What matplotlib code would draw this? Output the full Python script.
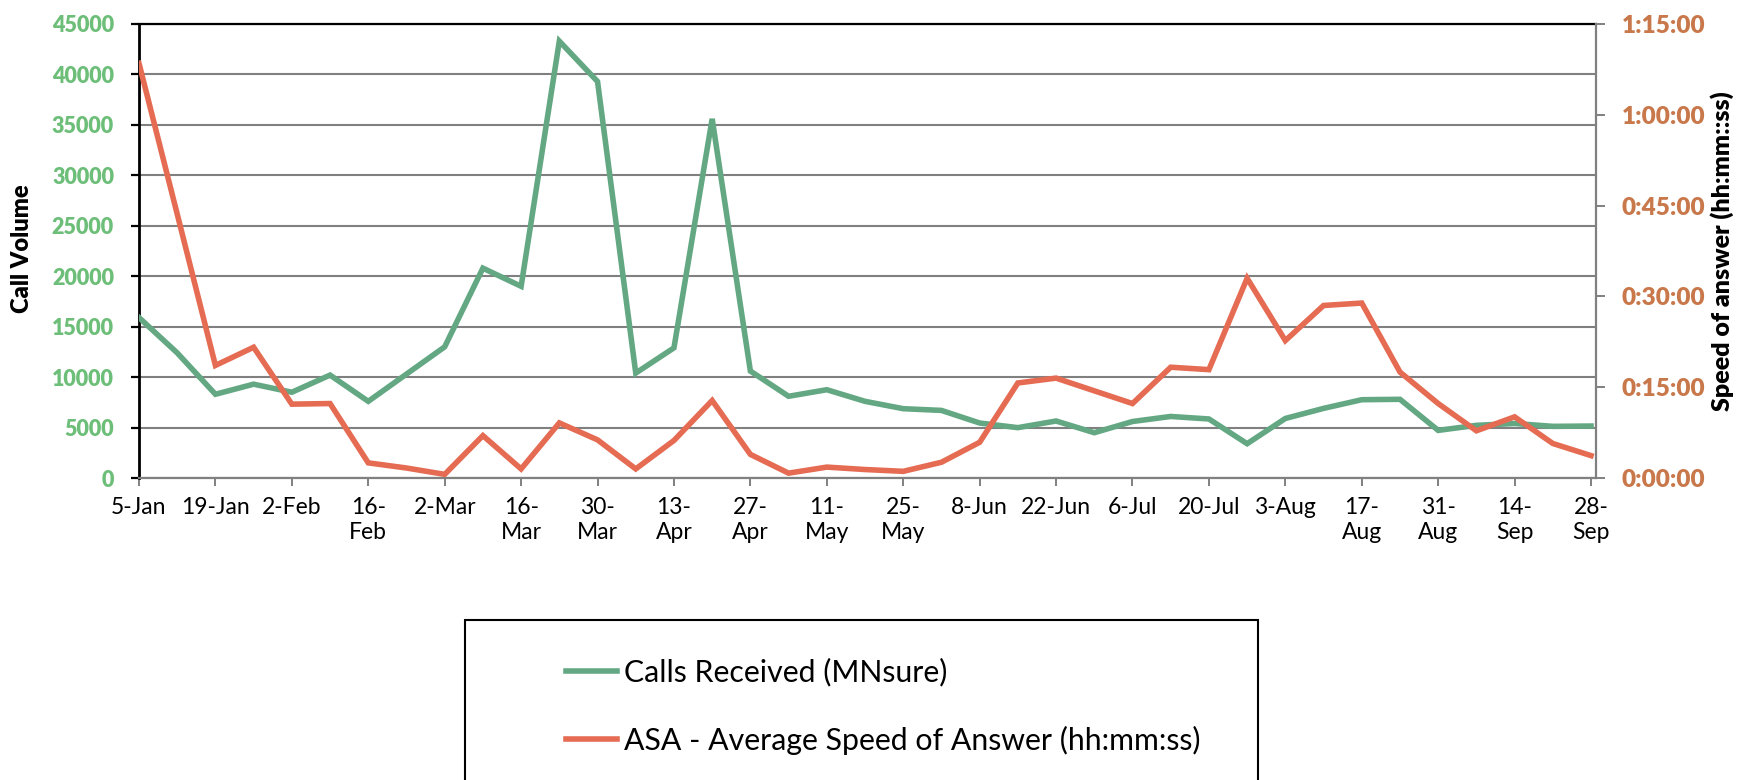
import os
import numpy as np
import matplotlib
matplotlib.use("Agg")
import matplotlib.pyplot as plt
from matplotlib import font_manager as fm
from matplotlib.lines import Line2D
from matplotlib.patches import Rectangle

# ---------------- data ----------------
week_labels = ["5-Jan", "19-Jan", "2-Feb", "16-\nFeb", "2-Mar", "16-\nMar", "30-\nMar",
               "13-\nApr", "27-\nApr", "11-\nMay", "25-\nMay", "8-Jun", "22-Jun", "6-Jul",
               "20-Jul", "3-Aug", "17-\nAug", "31-\nAug", "14-\nSep", "28-\nSep"]

calls_received = [15900, 12400, 8300, 9300, 8500, 10200, 7600, 10300, 13000, 20800,
                  19000, 43300, 39300, 10400, 12900, 35600, 10600, 8100, 8750, 7600,
                  6870, 6700, 5450, 4990, 5650, 4490, 5600, 6100, 5850, 3400,
                  5900, 6900, 7760, 7800, 4720, 5220, 5400, 5120, 5150]

asa = ["1:08:30", "0:43:36", "0:18:36", "0:21:36", "0:12:12", "0:12:18", "0:02:30",
       "0:01:39", "0:00:36", "0:07:00", "0:01:30", "0:09:06", "0:06:18", "0:01:30",
       "0:06:12", "0:12:48", "0:03:54", "0:00:48", "0:01:48", "0:01:24", "0:01:06",
       "0:02:36", "0:05:54", "0:15:42", "0:16:30", "0:14:24", "0:12:18", "0:18:18",
       "0:17:54", "0:33:00", "0:22:42", "0:28:30", "0:28:54", "0:17:30", "0:12:18",
       "0:07:48", "0:10:06", "0:05:42", "0:03:42"]

calls_ticks = [0, 5000, 10000, 15000, 20000, 25000, 30000, 35000, 40000, 45000]
asa_ticks = ["0:00:00", "0:15:00", "0:30:00", "0:45:00", "1:00:00", "1:15:00"]

series_names = ["Calls Received (MNsure)", "ASA - Average Speed of Answer (hh:mm:ss)"]


def to_seconds(s):
    h, m, sec = s.split(":")
    return int(h) * 3600 + int(m) * 60 + int(sec)


asa_sec = [to_seconds(s) for s in asa]
asa_tick_sec = [to_seconds(s) for s in asa_ticks]
x = np.arange(len(calls_received))


# pick a family that really has a heavy face installed
def find_bold_family():
    for fam in ['Lato', 'Noto Sans', 'Open Sans', 'Liberation Sans']:
        try:
            p = fm.findfont(fm.FontProperties(family=fam, weight='heavy'),
                            fallback_to_default=False)
        except Exception:
            continue
        base = os.path.basename(p).lower()
        if any(k in base for k in ('bold', 'black', 'heavy')):
            return fam
    return 'DejaVu Sans'


BOLD_FAM = find_bold_family()
BOLD_W = 'heavy'

# ---------------- style ----------------
plt.rcParams['font.family'] = ['Lato', 'DejaVu Sans']
GREEN = "#63A883"
RED = "#E56B53"
GREEN_TXT = "#6CBE78"
ORANGE_TXT = "#C8784A"
GRAY = "#808080"

W, H = 1746, 780
fig = plt.figure(figsize=(W / 100, H / 100), dpi=100)
L, R, T, B = 139, 1596, 24, 478
ax = fig.add_axes([L / W, 1 - B / H, (R - L) / W, (B - T) / H])
ax2 = ax.twinx()

ax.plot(x, calls_received, color=GREEN, lw=4.0, solid_joinstyle='miter', zorder=3)
ax2.plot(x, asa_sec, color=RED, lw=4.0, solid_joinstyle='miter', zorder=3)

ax.set_xlim(0, 38.13)
ax.set_ylim(calls_ticks[0], calls_ticks[-1])
ax2.set_ylim(asa_tick_sec[0], asa_tick_sec[-1])

ax.tick_params(axis='y', direction='out', length=6, width=1.6, color='black',
               labelsize=15.5, labelcolor=GREEN_TXT, pad=12)
ax.tick_params(axis='x', direction='out', length=6, width=1.4, color=GRAY,
               labelsize=16.5, labelcolor='black', pad=8)
ax2.tick_params(axis='y', direction='out', length=6.5, width=1.4, color=GRAY,
                labelsize=17.5, labelcolor=ORANGE_TXT, pad=12)

ax.set_yticks(calls_ticks)
ax.set_yticklabels([str(v) for v in calls_ticks], family=[BOLD_FAM, 'DejaVu Sans'],
                   fontweight=BOLD_W, fontsize=15.5, color=GREEN_TXT)
ax2.set_yticks(asa_tick_sec)
ax2.set_yticklabels(asa_ticks, family=[BOLD_FAM, 'DejaVu Sans'], fontweight=BOLD_W,
                    fontsize=17.5, color=ORANGE_TXT)

ax.set_xticks(x[::2])
ax.set_xticklabels(week_labels, linespacing=1.2)

ax.grid(axis='y', color=GRAY, lw=1.5)
ax.set_axisbelow(True)

for sp in ['top', 'left']:
    ax.spines[sp].set_color('black')
ax.spines['top'].set_linewidth(1.6)
ax.spines['left'].set_linewidth(2.0)
ax.spines['bottom'].set_color(GRAY)
ax.spines['bottom'].set_linewidth(1.6)
ax.spines['right'].set_visible(False)
ax2.spines['right'].set_color(GRAY)
ax2.spines['right'].set_linewidth(1.6)
for sp in ['top', 'left', 'bottom']:
    ax2.spines[sp].set_visible(False)

fig.text(22 / W, 1 - 249 / H, "Call Volume", rotation=90, ha='center', va='center',
         fontsize=17, fontweight=BOLD_W, family=[BOLD_FAM, 'DejaVu Sans'], color='black')
fig.text(1722 / W, 1 - 251 / H, "Speed of answer (hh:mm::ss)", rotation=90,
         ha='center', va='center', fontsize=18, fontweight=BOLD_W,
         family=[BOLD_FAM, 'DejaVu Sans'], color='black')

# legend box (extends beyond the bottom edge)
fig.patches.append(Rectangle((465 / W, -0.05), (1258 - 465) / W, (780 - 620) / H + 0.05,
                             transform=fig.transFigure, fill=False, edgecolor='black',
                             lw=1.5))
handles = [Line2D([], [], color=GREEN, lw=4.0), Line2D([], [], color=RED, lw=4.0)]
fig.legend(handles, series_names, loc='center left',
           bbox_to_anchor=(566 / W, 1 - 706 / H), frameon=False, fontsize=21.8,
           handlelength=1.7, handletextpad=0.2, labelspacing=1.3,
           borderpad=0, borderaxespad=0)

fig.savefig("out.png", dpi=100)
